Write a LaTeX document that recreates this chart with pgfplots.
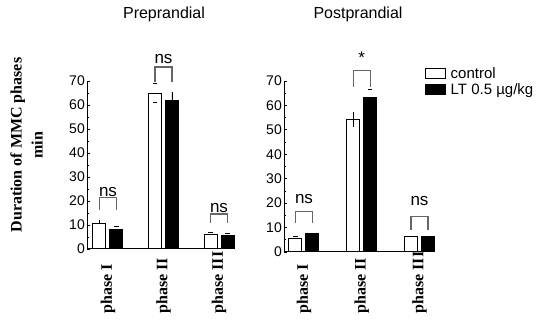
\documentclass[border=0pt]{standalone}
\usepackage{pgfplots}
\pgfplotsset{compat=1.18}
\usepackage{fontspec}
\setmainfont{Liberation Sans}
\newfontfamily\serifb{Liberation Serif}
\pgfplotsset{
  panel/.style={
    scale only axis, anchor=south west,
    ymin=0, ymax=70, ytick={0,10,...,70}, minor y tick num=1,
    xtick=\empty,
    axis x line*=bottom, axis y line*=left,
    axis line style={line width=1pt,-},
    tick align=inside, major tick length=3pt, minor tick length=2pt,
    every tick/.style={line width=0.8pt, black},
    clip=false,
    /pgf/number format/assume math mode=true,
    yticklabel style={font=\fontsize{14}{14}\selectfont, inner sep=2pt},
    legend image code/.code={\draw[#1] (0pt,-5pt) rectangle (20pt,5pt);},
  },
  ctrl/.style={ybar, bar width=13pt, bar shift=0pt, fill=white, draw=black, line width=1pt},
  lt/.style={ybar, bar width=13pt, bar shift=0pt, fill=black, draw=black, line width=1pt},
  brk/.style={black!60, line width=1.2pt, forget plot},
  dash/.style={only marks, mark=-, mark size=2.2pt, mark options={line width=0.9pt, black}, forget plot},
  ebar/.style={error bars/.cd, y dir=both, y explicit, error mark=none, error bar style={line width=0.8pt, black}},
}
\newcommand{\nsfont}{\fontsize{17}{17}\selectfont}
\newcommand{\xlab}{\serifb\bfseries\fontsize{16}{16}\selectfont}
\begin{document}
\begin{tikzpicture}
\useasboundingbox (0pt,0pt) rectangle (540pt,326pt);
% titles
\node[anchor=base, font=\fontsize{16}{16}\selectfont] at (164pt,307pt) {Preprandial};
\node[anchor=base, font=\fontsize{16}{16}\selectfont] at (358pt,307pt) {Postprandial};
% y label
\node[rotate=90, align=center, font=\serifb\bfseries\fontsize{16}{21}\selectfont] at (26.5pt,181pt) {Duration of MMC phases\\min};
% ---------- left panel ----------
\begin{axis}[panel, at={(87pt,77pt)}, width=147pt, height=168pt, xmin=-0.378, xmax=2.270]
\addplot[ctrl, ebar] coordinates {(-0.153,10.8) += (0,1.3) -= (0,0) (0.847,65) (1.847,6.2)};
\addplot[lt, ebar] coordinates {(0.153,8.3) (1.153,62) += (0,3.5) -= (0,0) (2.153,5.8)};
\addplot[dash] coordinates {(0.153,9.3) (0.847,69) (0.847,61) (1.847,6.8) (2.153,6.4)};
\addplot[brk] coordinates {(-0.153,16.3) (-0.153,21.3) (0.153,21.3) (0.153,16.3)};
\addplot[brk] coordinates {(0.847,69.6) (0.847,75.8) (1.153,75.8) (1.153,69.6)};
\addplot[brk] coordinates {(1.847,10.8) (1.847,14.6) (2.153,14.6) (2.153,10.8)};
\node[anchor=base, font=\nsfont] at (axis cs:0,22) {ns};
\node[anchor=base, font=\nsfont] at (axis cs:1,77.3) {ns};
\node[anchor=base, font=\nsfont] at (axis cs:2,15.3) {ns};
\node[rotate=90, anchor=west, font=\xlab] at ([yshift=-68pt]axis cs:0,0) {phase I};
\node[rotate=90, anchor=west, font=\xlab] at ([yshift=-68pt]axis cs:1,0) {phase II};
\node[rotate=90, anchor=west, font=\xlab] at ([yshift=-68pt]axis cs:2,0) {phase III};
\end{axis}
% ---------- right panel ----------
\begin{axis}[panel, at={(284pt,74pt)}, width=150pt, height=171pt, xmin=-0.346, xmax=2.251,
  legend style={at={(rel axis cs:0.94,1.09)}, anchor=north west, draw=none, fill=none,
    inner sep=0pt, font=\fontsize{15}{15}\selectfont, row sep=1pt,
    nodes={inner sep=1.5pt},
    /tikz/every odd column/.append style={column sep=3pt}},
  legend cell align=left]
\addplot[ctrl, ebar] coordinates {(-0.147,5.6) (0.853,54.3) += (0,3) -= (0,3) (1.853,6.2)};
\addlegendentry{control}
\addplot[lt] coordinates {(0.147,7.4) (1.147,63.2) (2.147,6.2)};
\addlegendentry{LT 0.5 µg/kg}
\addplot[dash] coordinates {(-0.147,6.2) (1.147,66.5)};
\addplot[brk] coordinates {(-0.147,11.9) (-0.147,16.5) (0.147,16.5) (0.147,11.9)};
\addplot[brk] coordinates {(0.853,67.5) (0.853,74.2) (1.147,74.2) (1.147,67.5)};
\addplot[brk] coordinates {(1.853,9.2) (1.853,14.5) (2.147,14.5) (2.147,9.2)};
\node[anchor=base, font=\nsfont] at (axis cs:0,20) {ns};
\node[font=\nsfont] at (axis cs:1,79.5) {*};
\node[anchor=base, font=\nsfont] at (axis cs:2,19.2) {ns};
\node[rotate=90, anchor=west, font=\xlab] at ([yshift=-65pt]axis cs:0,0) {phase I};
\node[rotate=90, anchor=west, font=\xlab] at ([yshift=-65pt]axis cs:1,0) {phase II};
\node[rotate=90, anchor=west, font=\xlab] at ([yshift=-65pt]axis cs:2,0) {phase III};
\end{axis}
\end{tikzpicture}
\end{document}
